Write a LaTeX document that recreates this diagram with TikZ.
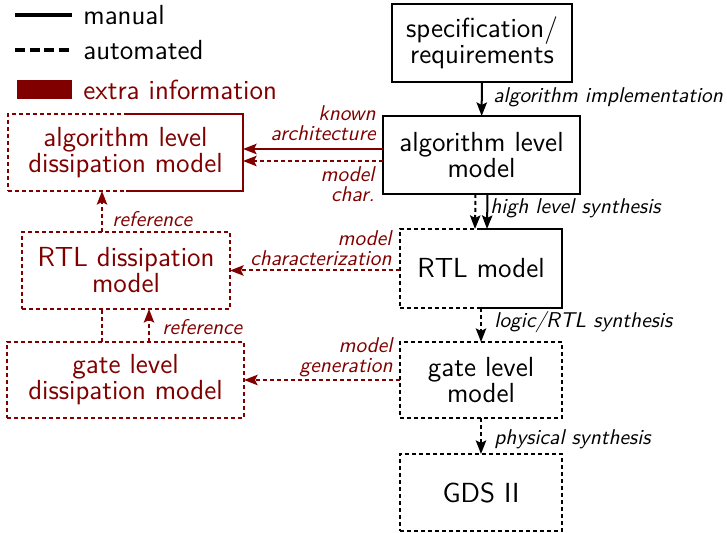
\documentclass[tikz,border=0pt]{standalone}
\usetikzlibrary{arrows.meta}
\definecolor{infored}{RGB}{128,0,0}
\newcommand\stagefont{\sffamily\fontsize{13.8}{13}\selectfont}
\newcommand\labelfont{\sffamily\itshape\fontsize{10.7}{10.2}\selectfont}
\tikzset{
  stage/.style={draw, line width=1pt, inner sep=0pt, outer sep=0pt,
    align=center, font=\stagefont, fill=white, line join=miter},
  auto/.style={dash pattern=on 2pt off 1.5pt},
  extra/.style={draw=infored, text=infored},
  lab/.style={font=\labelfont, inner sep=0pt, align=right},
  flow/.style={line width=1pt, -{Stealth[length=6.8pt,width=5.2pt,inset=1.3pt]}},
  plainline/.style={line width=1pt},
  legendline/.style={line width=1.65pt},
}
\begin{document}
\begin{tikzpicture}[x=0.5pt, y=-0.5pt]
\useasboundingbox (0,0) rectangle (727,533);

% legend
\coordinate (lm0) at (15,15);  \coordinate (lm1) at (72,15);
\coordinate (la0) at (15,50);  \coordinate (la1) at (72,50);
\draw[legendline] (lm0) -- (lm1);
\draw[legendline, dash pattern=on 5pt off 2.3pt] (la0) -- (la1);
\fill[infored] (17,80) rectangle (72,99);
\node[anchor=west, inner sep=0pt, font=\stagefont] (tman) at (83,15) {manual};
\node[anchor=west, inner sep=0pt, font=\stagefont] (taut) at (83,50) {automated};
\node[anchor=west, inner sep=0pt, font=\stagefont, text=infored] (text) at (83,90) {extra information};

% design flow
\node[stage, minimum width=90pt, minimum height=39pt] (spec) at (482,43) {specification/\\requirements};
\node[stage, minimum width=98.5pt, minimum height=39pt] (alg) at (481.5,155) {algorithm level\\model};
\node[stage, auto, minimum width=81pt, minimum height=39.5pt] (rtl) at (481,268.5) {RTL model};
\node[stage, auto, minimum width=81pt, minimum height=38pt] (gate) at (481,380) {gate level\\model};
\node[stage, auto, minimum width=81pt, minimum height=38.5pt] (gds) at (481,492.5) {GDS II};
\draw[plainline] (rtl.north) -- (rtl.north east) -- (rtl.south east) -- (rtl.south);

% dissipation models
\node[stage, auto, extra, minimum width=117.5pt, minimum height=38.5pt] (algd) at (125.5,152.5) {algorithm level\\dissipation model};
\node[stage, auto, extra, minimum width=104pt, minimum height=38.5pt] (rtld) at (126,270.5) {RTL dissipation\\model};
\node[stage, auto, extra, minimum width=118.5pt, minimum height=38pt] (gated) at (125.5,380) {gate level\\dissipation model};
\draw[plainline, infored] (algd.north) -- (algd.north east) -- (algd.south east) -- (algd.south);

% flow connectors
\draw[flow] (spec) -- (alg);
\draw[flow, auto] ([xshift=-3pt]alg.south) -- ([xshift=-3pt]rtl.north);
\draw[flow] ([xshift=3pt]alg.south) -- ([xshift=3pt]rtl.north);
\draw[flow, auto] (rtl) -- (gate);
\draw[flow, auto] (gate) -- (gds);

\node[lab, anchor=west] (l1) at (493,97) {algorithm implementation};
\node[lab, anchor=west] (l2) at (490,208) {high level synthesis};
\node[lab, anchor=west] (l3) at (494,322) {logic/RTL synthesis};
\node[lab, anchor=west] (l4) at (494,439) {physical synthesis};

% model extraction connectors
\draw[flow, infored] ([yshift=3pt]alg.west) -- ([yshift=3pt]alg.west -| algd.east);
\draw[flow, infored, auto] ([yshift=-3pt]alg.west) -- ([yshift=-3pt]alg.west -| algd.east);
\draw[flow, infored, auto] ([yshift=-1pt]rtl.west) -- ([yshift=-1pt]rtl.west -| rtld.east);
\draw[flow, infored, auto] (gate.west) -- (gate.west -| gated.east);

\node[lab, extra, draw=none, anchor=east] (k1) at (376,123) {known\\architecture};
\node[lab, extra, draw=none, anchor=east] (k2) at (375,184) {model\\char.};
\node[lab, extra, draw=none, anchor=east] (k3) at (392,248) {model\\characterization};
\node[lab, extra, draw=none, anchor=east] (k4) at (393,357) {model\\generation};

% reference connectors
\coordinate (refa) at (102,0);
\coordinate (refb) at (149,0);
\draw[flow, infored, auto] (rtld.north -| refa) -- (algd.south -| refa);
\draw[plainline, infored, auto] (gated.north -| refa) -- (rtld.south -| refa);
\draw[flow, infored, auto] (gated.north -| refb) -- (rtld.south -| refb);
\node[lab, extra, draw=none, anchor=west] (r1) at (112,219) {reference};
\node[lab, extra, draw=none, anchor=west] (r2) at (162,327) {reference};
\end{tikzpicture}
\end{document}
